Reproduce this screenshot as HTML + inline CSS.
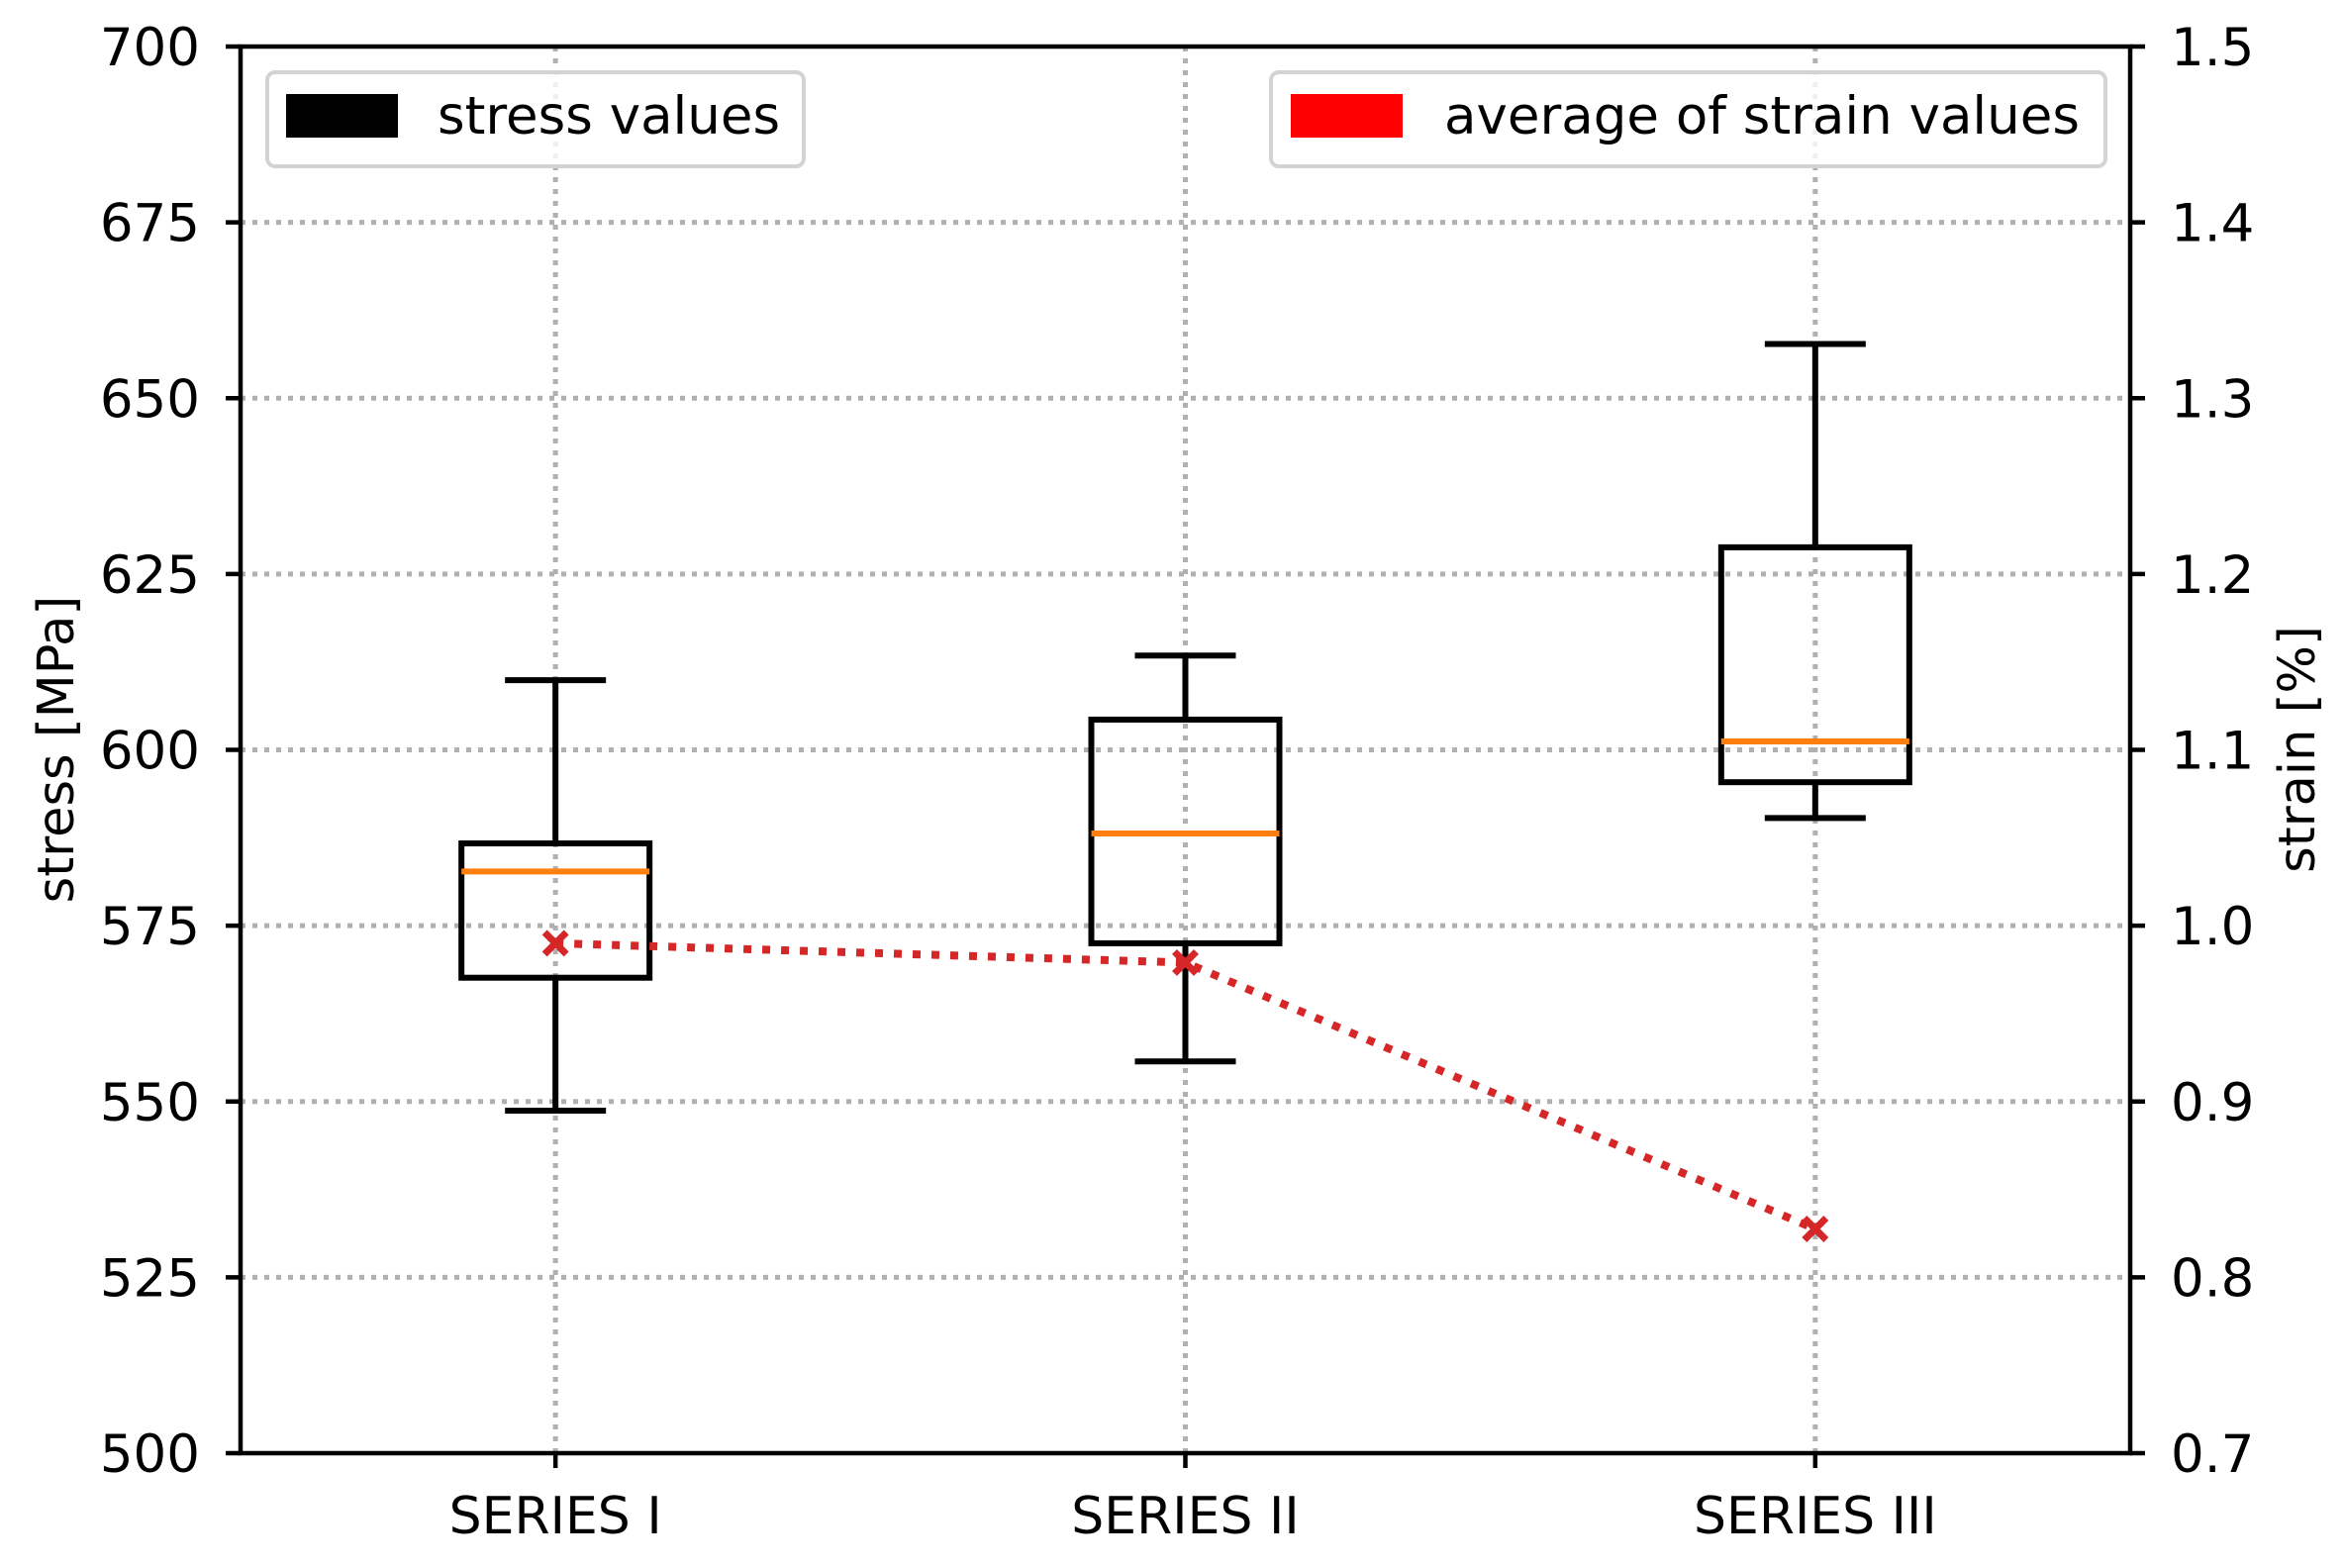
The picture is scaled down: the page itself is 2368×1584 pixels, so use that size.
<!DOCTYPE html>
<html><head><meta charset="utf-8"><style>
html,body{margin:0;padding:0;background:#fff;}
svg{display:block;font-family:"DejaVu Sans","Liberation Sans",sans-serif;}
</style></head><body>
<svg id="chart" width="2368" height="1584" viewBox="0 0 2368 1584" xmlns="http://www.w3.org/2000/svg">
<rect x="0" y="0" width="2368" height="1584" fill="#fff"/>
<g id="grid"></g>
<g id="boxes"></g>
<g id="strain"></g>
<g id="axes"></g>
<text x="0" y="0" font-size="51" text-anchor="middle" transform="translate(74,757) rotate(-90)">stress [MPa]</text>
<text x="0" y="0" font-size="51" text-anchor="middle" transform="translate(2338,757) rotate(-90)">strain [%]</text>
<g>
<rect x="270" y="73" width="542" height="95" rx="8" fill="#fff" fill-opacity="0.8" stroke="#d3d3d3" stroke-width="4"/>
<rect x="289" y="95" width="113" height="44" fill="#000"/>
<text x="442" y="135" font-size="53">stress values</text>
</g>
<g>
<rect x="1284" y="73" width="843" height="95" rx="8" fill="#fff" fill-opacity="0.8" stroke="#d3d3d3" stroke-width="4"/>
<rect x="1304" y="95" width="113" height="44" fill="#ff0000"/>
<text x="1459" y="135" font-size="53">average of strain values</text>
</g>
</svg>
<script>
const categories = ["SERIES I","SERIES II","SERIES III"];
const whiskerLow = [548.7, 555.7, 590.3];
const q1 = [567.6, 572.5, 595.4];
const median = [582.7, 588.1, 601.2];
const q3 = [586.7, 604.3, 628.8];
const whiskerHigh = [609.9, 613.4, 657.7];
const strainAvg = [0.99, 0.979, 0.8275];
const yTicks = [500,525,550,575,600,625,650,675,700];
const y2Ticks = ["0.7","0.8","0.9","1.0","1.1","1.2","1.3","1.4","1.5"];

const NS="http://www.w3.org/2000/svg";
const L=243,R=2152,T=47,B=1468;
function xs(i){return L+(R-L)*((i+1)-0.5)/3;}
function ys(v){return B-(v-500)/200*(B-T);}
function ys2(v){return B-(v-0.7)/0.8*(B-T);}
function mk(tag,attrs,parent){const e=document.createElementNS(NS,tag);for(const k in attrs)e.setAttribute(k,attrs[k]);parent.appendChild(e);return e;}
const grid=document.getElementById('grid'),boxes=document.getElementById('boxes'),axes=document.getElementById('axes'),strain=document.getElementById('strain');

yTicks.forEach(v=>{
  const y=ys(v);
  if(v>500&&v<700){const g=mk('line',{x1:L,x2:R,y1:y,y2:y,stroke:'#b0b0b0','stroke-width':5,'stroke-dasharray':'5 7'},grid);
  
  }
  const t=mk('line',{x1:L-15,x2:L,y1:y,y2:y,stroke:'#000','stroke-width':4.5},axes);
  
  
  const tx=mk('text',{x:L-41,y:y+19,'font-size':53,'text-anchor':'end'},axes);tx.textContent=v;
  
  
});
y2Ticks.forEach(s=>{
  const y=ys2(parseFloat(s));
  const t=mk('line',{x1:R,x2:R+15,y1:y,y2:y,stroke:'#000','stroke-width':4.5},axes);
  
  
  const tx=mk('text',{x:R+41,y:y+19,'font-size':53,'text-anchor':'start'},axes);tx.textContent=s;
  
  
});
categories.forEach((c,i)=>{
  const x=xs(i);
  const g=mk('line',{x1:x,x2:x,y1:T,y2:B,stroke:'#b0b0b0','stroke-width':5,'stroke-dasharray':'5 7'},grid);
  
  
  const t=mk('line',{x1:x,x2:x,y1:B,y2:B+15,stroke:'#000','stroke-width':4.5},axes);
  
  
  const tx=mk('text',{x:x,y:1549,'font-size':52,'text-anchor':'middle'},axes);tx.textContent=c;
  
  
  const hw=95,cw=51;
  const grp=mk('g',{},boxes);
  
  
  mk('line',{x1:x,x2:x,y1:ys(whiskerHigh[i]),y2:ys(q3[i]),stroke:'#000','stroke-width':6},grp);
  mk('line',{x1:x,x2:x,y1:ys(q1[i]),y2:ys(whiskerLow[i]),stroke:'#000','stroke-width':6},grp);
  mk('line',{x1:x-cw,x2:x+cw,y1:ys(whiskerHigh[i]),y2:ys(whiskerHigh[i]),stroke:'#000','stroke-width':6},grp);
  mk('line',{x1:x-cw,x2:x+cw,y1:ys(whiskerLow[i]),y2:ys(whiskerLow[i]),stroke:'#000','stroke-width':6},grp);
  mk('rect',{x:x-hw,y:ys(q3[i]),width:2*hw,height:ys(q1[i])-ys(q3[i]),fill:'none',stroke:'#000','stroke-width':6},grp);
  mk('line',{x1:x-hw,x2:x+hw,y1:ys(median[i]),y2:ys(median[i]),stroke:'#ff7f0e','stroke-width':6},grp);
});
const pts=strainAvg.map((v,i)=>xs(i)+','+ys2(v)).join(' ');
const pl=mk('polyline',{points:pts,fill:'none',stroke:'#d62728','stroke-width':8,'stroke-dasharray':'8 11'},strain);


strainAvg.forEach((v,i)=>{
  const x=xs(i),y=ys2(v),s=11;
  const p=mk('path',{d:`M${x-s},${y-s}L${x+s},${y+s}M${x-s},${y+s}L${x+s},${y-s}`,stroke:'#d62728','stroke-width':7,fill:'none'},strain);
  
  
});
const fr=mk('rect',{x:L,y:T,width:R-L,height:B-T,fill:'none',stroke:'#000','stroke-width':4.5},axes);


</script>
</body></html>
